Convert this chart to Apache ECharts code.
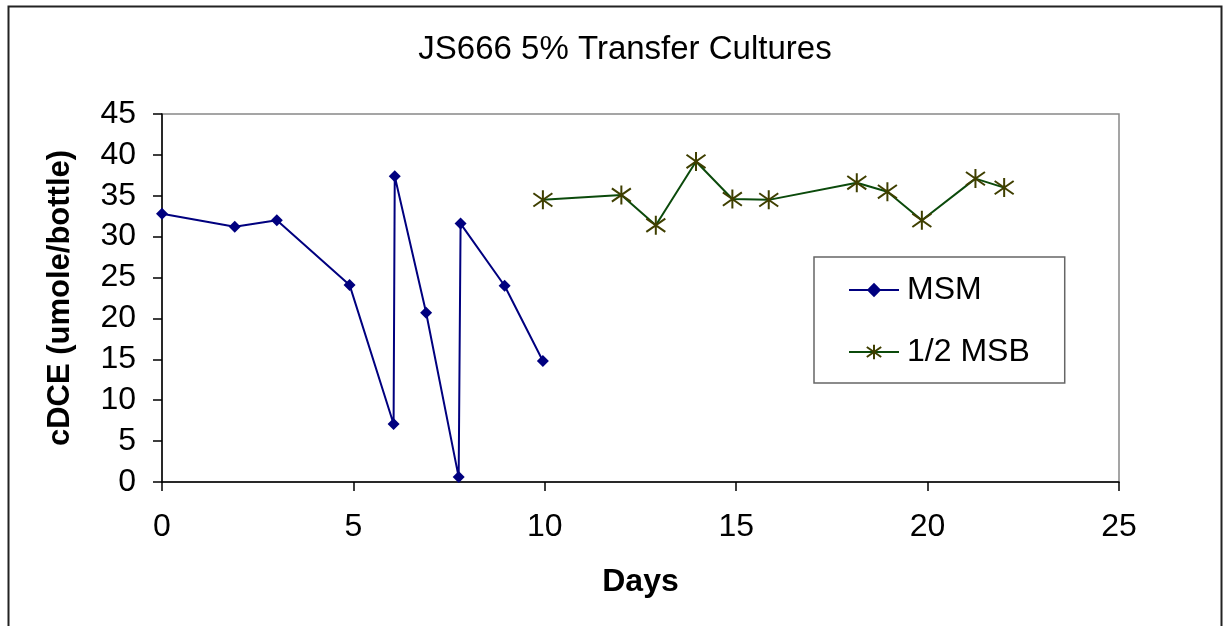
<!DOCTYPE html>
<html>
<head>
<meta charset="utf-8">
<script src="https://cdn.jsdelivr.net/npm/echarts@6/dist/echarts.min.js"></script>
<style>
  html, body { margin: 0; padding: 0; background: #fff; }
  #chart { width: 1223px; height: 626px; }
</style>
</head>
<body>
<div id="chart"></div>
<script>
// MSM culture
var msmDays = [0, 1.9, 3.0, 4.9, 6.05, 6.08, 6.9, 7.75, 7.8, 8.95, 9.95];
var msmValues = [32.8, 31.2, 32.0, 24.1, 7.1, 37.4, 20.7, 0.6, 31.6, 24.0, 14.8];

// 1/2 MSB culture
var msbDays = [9.95, 12.0, 12.9, 13.95, 14.9, 15.85, 18.15, 18.95, 19.85, 21.25, 22.0];
var msbValues = [34.5, 35.1, 31.4, 39.2, 34.6, 34.5, 36.6, 35.5, 32.0, 37.1, 36.0];

var xTicks = [0, 5, 10, 15, 20, 25];
var yTicks = [0, 5, 10, 15, 20, 25, 30, 35, 40, 45];

function pairs(xs, ys) {
  var out = [];
  for (var i = 0; i < xs.length; i++) out.push([xs[i], ys[i]]);
  return out;
}

var starPath = 'path://M0,-10L0,10M-10,-7L10,7M-10,7L10,-7';
var font = 'Liberation Sans, Arial, sans-serif';

var chart = echarts.init(document.getElementById('chart'));

var option = {
  backgroundColor: '#ffffff',
  animation: false,
  title: {
    text: 'JS666 5% Transfer Cultures',
    left: 620,
    top: 28,
    textAlign: 'center',
    textStyle: { fontFamily: font, fontSize: 33, fontWeight: 'normal', color: '#000' }
  },
  legend: {
    left: 814,
    top: 257,
    orient: 'vertical',
    padding: [17, 35, 15, 34],
    itemGap: 30,
    itemWidth: 50,
    itemHeight: 18,
    borderColor: '#666',
    borderWidth: 1.5,
    borderRadius: 0,
    textStyle: { fontFamily: font, fontSize: 32, color: '#000', padding: [0, 0, 0, 3] },
    data: ['MSM', '1/2 MSB']
  },
  grid: {
    left: 162,
    top: 114,
    right: 104,
    bottom: 144,
    show: true,
    borderColor: '#888',
    borderWidth: 1.5
  },
  xAxis: {
    type: 'value',
    min: xTicks[0],
    max: xTicks[xTicks.length - 1],
    interval: 5,
    name: 'Days',
    nameLocation: 'middle',
    nameGap: 84,
    nameTextStyle: { fontFamily: font, fontSize: 32, fontWeight: 'bold', color: '#000' },
    axisLine: { lineStyle: { color: '#000', width: 1.5 } },
    axisTick: { show: true, length: 9, inside: false, lineStyle: { color: '#000', width: 1.5 } },
    axisLabel: { margin: 29, fontFamily: font, fontSize: 32, color: '#000' },
    splitLine: { show: false }
  },
  yAxis: {
    type: 'value',
    min: yTicks[0],
    max: yTicks[yTicks.length - 1],
    interval: 5,
    name: 'cDCE (umole/bottle)',
    nameLocation: 'middle',
    nameGap: 86,
    nameTextStyle: { fontFamily: font, fontSize: 31, fontWeight: 'bold', color: '#000' },
    axisLine: { show: true, lineStyle: { color: '#000', width: 1.5 } },
    axisTick: { show: true, length: 9, inside: false, lineStyle: { color: '#000', width: 1.5 } },
    axisLabel: { margin: 26, fontFamily: font, fontSize: 32, color: '#000' },
    splitLine: { show: false }
  },
  graphic: [{
    type: 'rect',
    shape: { x: 8.5, y: 6.5, width: 1213, height: 700 },
    style: { fill: 'none', stroke: '#222', lineWidth: 2 },
    silent: true,
    z: -10
  }],
  series: [{
    name: 'MSM',
    type: 'line',
    data: pairs(msmDays, msmValues),
    symbol: 'diamond',
    symbolSize: 12,
    itemStyle: { color: '#00007f' },
    lineStyle: { color: '#00007f', width: 2 }
  }, {
    name: '1/2 MSB',
    type: 'line',
    data: pairs(msbDays, msbValues),
    symbol: starPath,
    symbolSize: 19,
    itemStyle: { color: '#3f3f00', borderColor: '#3f3f00', borderWidth: 2 },
    lineStyle: { color: '#0b4a0b', width: 2 }
  }]
};

chart.setOption(option);
</script>
</body>
</html>
